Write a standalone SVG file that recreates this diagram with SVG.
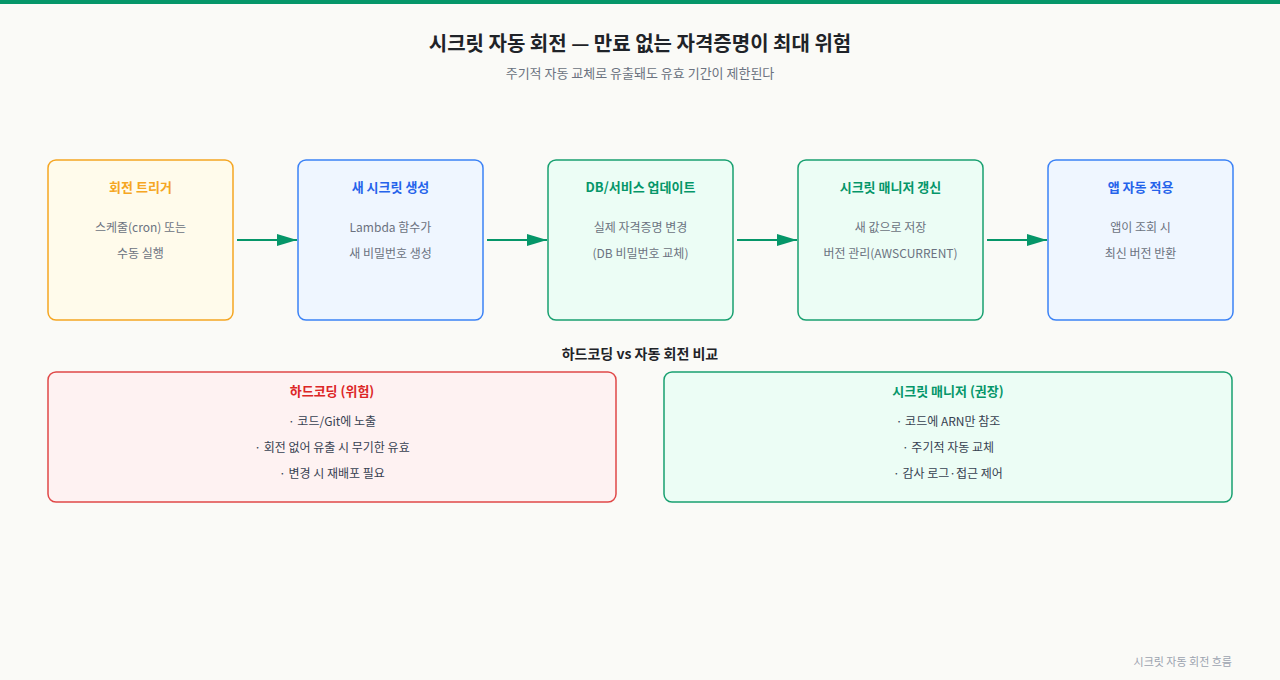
<svg xmlns="http://www.w3.org/2000/svg" width="1280" height="680" viewBox="0 0 1280 680">
<style>
text{font-family:"Noto Sans CJK KR","Noto Sans",sans-serif}
.title{font-size:20px;font-weight:700;fill:#1f2328;text-anchor:middle}
.sub{font-size:13px;fill:#6b7280;text-anchor:middle}
.nt{font-size:13px;font-weight:700;text-anchor:middle}
.nb{font-size:12px;fill:#6b7280;text-anchor:middle}
.sec{font-size:14px;font-weight:700;fill:#1f2328;text-anchor:middle}
.item{font-size:12px;fill:#374151;text-anchor:middle}
.foot{font-size:11px;fill:#9ca3af;text-anchor:end}
.orange{fill:#fffbeb;stroke:#f5a623;stroke-width:1.5}
.blue{fill:#eff6ff;stroke:#3b82f6;stroke-width:1.5}
.green{fill:#ecfdf5;stroke:#18a070;stroke-width:1.5}
.red{fill:#fef2f2;stroke:#e04848;stroke-width:1.5}
.conn{stroke:#059669;stroke-width:2;fill:none;marker-end:url(#ah)}
</style>
<defs>
<marker id="ah" viewBox="0 0 10 10" refX="10" refY="5" markerWidth="10" markerHeight="6" markerUnits="userSpaceOnUse" orient="auto"><path d="M0,0 L10,5 L0,10 z" fill="#059669"/></marker>
<marker id="ah2" viewBox="0 0 20 12" refX="20" refY="6" markerWidth="20" markerHeight="12" markerUnits="userSpaceOnUse" orient="auto"><path d="M0,0 L20,6 L0,12 z" fill="#059669"/></marker>
</defs>
<rect width="1280" height="680" fill="#fafaf7"/>
<rect width="1280" height="4" fill="#059669"/>
<text class="title" x="640" y="51">시크릿 자동 회전 — 만료 없는 자격증명이 최대 위험</text>
<text class="sub" x="640" y="78">주기적 자동 교체로 유출돼도 유효 기간이 제한된다</text>

<g id="connectors">
<line x1="237" y1="240" x2="297" y2="240" stroke="#059669" stroke-width="2" marker-end="url(#ah2)"/>
<line x1="487" y1="240" x2="547" y2="240" stroke="#059669" stroke-width="2" marker-end="url(#ah2)"/>
<line x1="737" y1="240" x2="797" y2="240" stroke="#059669" stroke-width="2" marker-end="url(#ah2)"/>
<line x1="987" y1="240" x2="1047" y2="240" stroke="#059669" stroke-width="2" marker-end="url(#ah2)"/>
</g>

<g id="n1">
<rect class="orange" x="48" y="160" width="185" height="160" rx="8"/>
<text class="nt" x="140.5" y="192" fill="#f5a623">회전 트리거</text>
<text class="nb" x="140.5" y="232">스케줄(cron) 또는</text>
<text class="nb" x="140.5" y="258">수동 실행</text>
</g>
<g id="n2">
<rect class="blue" x="298" y="160" width="185" height="160" rx="8"/>
<text class="nt" x="390.5" y="192" fill="#2563eb">새 시크릿 생성</text>
<text class="nb" x="390.5" y="232">Lambda 함수가</text>
<text class="nb" x="390.5" y="258">새 비밀번호 생성</text>
</g>
<g id="n3">
<rect class="green" x="548" y="160" width="185" height="160" rx="8"/>
<text class="nt" x="640.5" y="192" fill="#059669">DB/서비스 업데이트</text>
<text class="nb" x="640.5" y="232">실제 자격증명 변경</text>
<text class="nb" x="640.5" y="258">(DB 비밀번호 교체)</text>
</g>
<g id="n4">
<rect class="green" x="798" y="160" width="185" height="160" rx="8"/>
<text class="nt" x="890.5" y="192" fill="#059669">시크릿 매니저 갱신</text>
<text class="nb" x="890.5" y="232">새 값으로 저장</text>
<text class="nb" x="890.5" y="258">버전 관리(AWSCURRENT)</text>
</g>
<g id="n5">
<rect class="blue" x="1048" y="160" width="185" height="160" rx="8"/>
<text class="nt" x="1140.5" y="192" fill="#2563eb">앱 자동 적용</text>
<text class="nb" x="1140.5" y="232">앱이 조회 시</text>
<text class="nb" x="1140.5" y="258">최신 버전 반환</text>
</g>

<text class="sec" x="640" y="359">하드코딩 vs 자동 회전 비교</text>

<g id="hardcoding">
<rect class="red" x="48" y="372" width="568" height="130" rx="8"/>
<text class="nt" x="332" y="396" fill="#dc2626">하드코딩 (위험)</text>
<text class="item" x="332" y="426">· 코드/Git에 노출</text>
<text class="item" x="332" y="452">· 회전 없어 유출 시 무기한 유효</text>
<text class="item" x="332" y="478">· 변경 시 재배포 필요</text>
</g>
<g id="secretsmanager">
<rect class="green" x="664" y="372" width="568" height="130" rx="8"/>
<text class="nt" x="948" y="396" fill="#059669">시크릿 매니저 (권장)</text>
<text class="item" x="948" y="426">· 코드에 ARN만 참조</text>
<text class="item" x="948" y="452">· 주기적 자동 교체</text>
<text class="item" x="948" y="478">· 감사 로그·접근 제어</text>
</g>

<text class="foot" x="1232" y="666">시크릿 자동 회전 흐름</text>
</svg>
